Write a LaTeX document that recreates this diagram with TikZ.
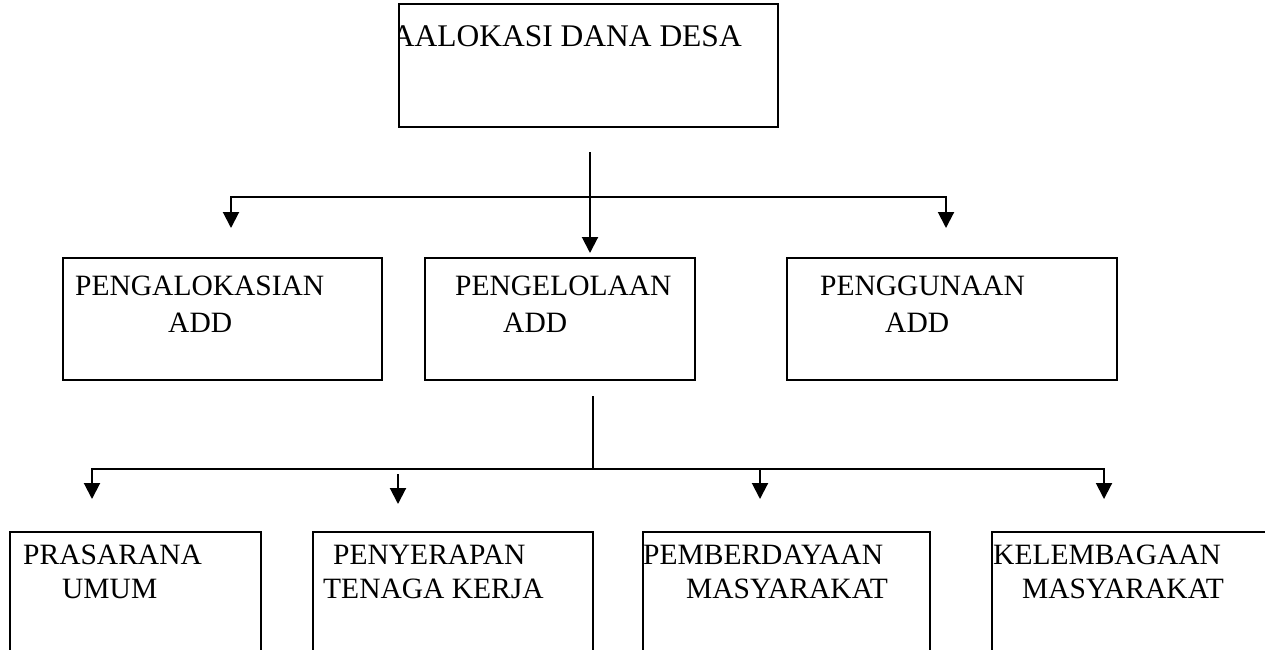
\documentclass[tikz,border=0pt]{standalone}
\usepackage{fontspec}
\setmainfont{Liberation Serif}
\usetikzlibrary{arrows.meta}
\begin{document}
\begin{tikzpicture}[x=1pt,y=-1pt,
  box/.style={draw=black,line width=1.8pt,rectangle,inner sep=0pt},
  txt/.style={inner sep=0pt,font=\fontsize{29.5}{29.5}\selectfont,anchor=base west},
  conn/.style={line width=2pt},
  arr/.style={conn,-{Triangle[width=16pt,length=16pt]}}]
\useasboundingbox (0,0) rectangle (1265,649);
\clip (0,0) rectangle (1265,649);
% top box
\node[box,minimum width=379pt,minimum height=123pt] (top) at (588.5,65.5) {};
\begin{scope}
\clip (top.south west) rectangle (top.north east);
\node[inner sep=0pt,font=\fontsize{31.5}{31.5}\selectfont,anchor=base east] (title) at (742,46) {AALOKASI DANA DESA};
\end{scope}
% second row
\node[box,minimum width=319pt,minimum height=122pt] (b1) at (222.5,319) {};
\node[box,minimum width=270pt,minimum height=122pt] (b2) at (560,319) {};
\node[box,minimum width=330pt,minimum height=122pt] (b3) at (952,319) {};
\node[txt] (b1a) at (75,295) {PENGALOKASIAN};
\node[txt] (b1b) at (168,332) {ADD};
\node[txt] (b2a) at (455,295) {PENGELOLAAN};
\node[txt] (b2b) at (503,332) {ADD};
\node[txt] (b3a) at (820,295) {PENGGUNAAN};
\node[txt] (b3b) at (885,332) {ADD};
% third row
\node[box,minimum width=251pt,minimum height=160pt] (c1) at (135.5,612) {};
\node[box,minimum width=280pt,minimum height=160pt] (c2) at (453,612) {};
\node[box,minimum width=287pt,minimum height=160pt] (c3) at (786.5,612) {};
\node[box,minimum width=300pt,minimum height=160pt] (c4) at (1142,612) {};
\node[txt] (c1a) at (23,564) {PRASARANA};
\node[txt] (c1b) at (62,598) {UMUM};
\node[txt] (c2a) at (333,564) {PENYERAPAN};
\node[txt] (c2b) at (323,598) {TENAGA KERJA};
\begin{scope}
\clip (c3.south west) rectangle (c3.north east);
\node[txt] (c3a) at (643,564) {PEMBERDAYAAN};
\end{scope}
\node[txt] (c3b) at (686,598) {MASYARAKAT};
\begin{scope}
\clip (c4.south west) rectangle (c4.north east);
\node[txt] (c4a) at (993,564) {KELEMBAGAAN};
\end{scope}
\node[txt] (c4b) at (1022,598) {MASYARAKAT};
% connectors level 1
\coordinate (s1) at (590,152);
\coordinate (h1) at (590,197);
\coordinate (e1) at (231,228);
\coordinate (e2) at (590,253);
\coordinate (e3) at (946,228);
\draw[conn] (s1) -- (h1);
\draw[arr] (h1) -| (e1);
\draw[arr] (h1) -| (e3);
\draw[arr] (h1) -- (e2);
% connectors level 2
\coordinate (s2) at (593,396);
\coordinate (h2) at (593,469);
\coordinate (f1) at (92,499);
\coordinate (f2s) at (398,474);
\coordinate (f2) at (398,504);
\coordinate (f3s) at (760,469);
\coordinate (f3) at (760,499);
\coordinate (f4) at (1104,499);
\draw[conn] (s2) -- (h2);
\draw[arr] (h2) -| (f1);
\draw[arr] (h2) -| (f4);
\draw[arr] (f3s) -- (f3);
\draw[arr] (f2s) -- (f2);
\end{tikzpicture}
\end{document}
